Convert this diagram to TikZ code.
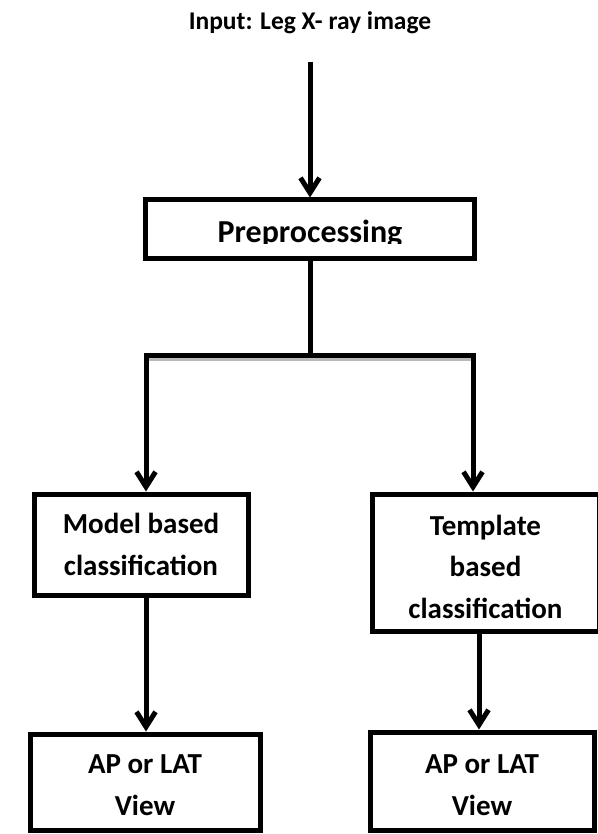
\documentclass[tikz,border=0pt]{standalone}
\usepackage{fontspec}
\setmainfont{Carlito}
\usetikzlibrary{arrows.meta}
\begin{document}
\begin{tikzpicture}[x=1pt,y=-1pt,
  box/.style={draw, line width=5pt, inner sep=0pt, align=center, text depth=0pt,
    font=\bfseries\fontsize{29}{41.5}\selectfont},
  conn/.style={line width=5pt},
  arr/.style={line width=5pt, -{Straight Barb[length=15pt,width=19pt]}},
  shade/.style={gray!55, line width=3pt},
]
\useasboundingbox (0,0) rectangle (597,834);
\node[font=\bfseries\fontsize{25.5}{30}\selectfont, anchor=base] (title) at (310,30) {Input: Leg X- ray image};
\node[box, minimum width=329pt, minimum height=58pt, text height=26pt,
  font=\bfseries\fontsize{32}{38}\selectfont] (pre) at (310,229) {Preprocessing};
\fill[white] (147.5,243.5) rectangle (471.5,255.5);
\node[box, minimum width=214pt, minimum height=101pt, text height=61pt] (model) at (141,544.5) {Model based\\classification};
\node[box, minimum width=227pt, minimum height=137pt, text height=111pt] (templ) at (485.5,562.5) {Template\\based\\classification};
\node[box, minimum width=230pt, minimum height=96pt, text height=66pt] (apl) at (145,782) {AP or LAT\\View};
\node[box, minimum width=224pt, minimum height=98pt, text height=68pt] (apr) at (482,781) {AP or LAT\\View};
\coordinate (in) at (310,62);
\coordinate (split) at (310,355.5);
\coordinate (jl) at (146,355.5);
\coordinate (jr) at (473,355.5);
\coordinate (rx) at (479,632);
\draw[shade] ([shift={(2,4)}]jl) -- ([shift={(-2,4)}]jr);
\draw[arr] (in) -- (in |- pre.north);
\draw[conn] (pre.south -| split) -- (split);
\draw[arr] (split) -- (jl) -- (jl |- model.north);
\draw[arr] (split) -- (jr) -- (jr |- templ.north);
\draw[arr] (model.south -| jl) -- (apl.north -| jl);
\draw[arr] (templ.south -| rx) -- (apr.north -| rx);
\end{tikzpicture}
\end{document}
